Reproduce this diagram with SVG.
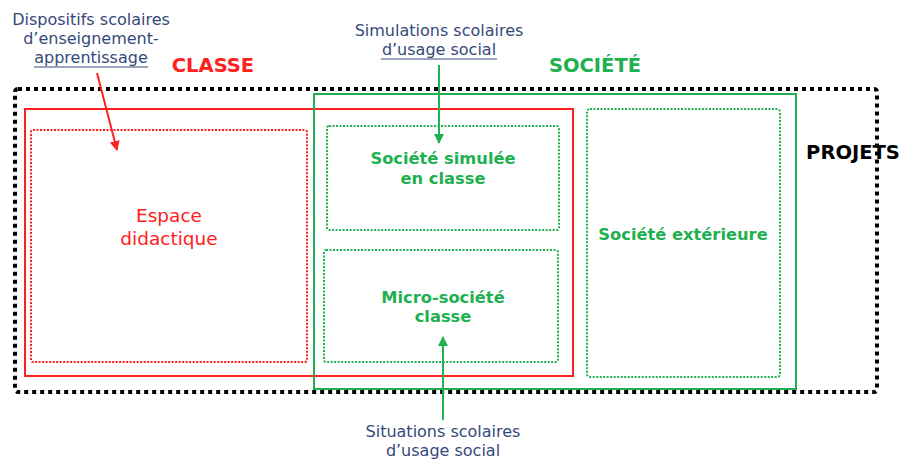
<svg xmlns="http://www.w3.org/2000/svg" width="902" height="459" viewBox="0 0 902 459">
<defs>
<style>
.lbl{font-family:"DejaVu Sans",Verdana,sans-serif;font-size:16px;fill:#35497a;text-anchor:middle}
.grn{font-family:"DejaVu Sans",Verdana,sans-serif;font-size:16.3px;font-weight:bold;fill:#21b04f;text-anchor:middle}
.ttl{font-family:"DejaVu Sans",Verdana,sans-serif;font-size:19.5px;font-weight:bold;text-anchor:middle}
.red{font-family:"DejaVu Sans",Verdana,sans-serif;font-size:18.5px;fill:#ff2020;text-anchor:middle}
.gdot{fill:none;stroke:#21b04f;stroke-width:2;stroke-dasharray:2 1.5}
.rdot{fill:none;stroke:#ff2020;stroke-width:2;stroke-dasharray:2 1.5}
</style>
<marker id="ahR" viewBox="0 0 10 10" refX="9" refY="5" markerWidth="5" markerHeight="5" orient="auto"><path d="M0,0 L10,5 L0,10 z" fill="#ff2020"/></marker>
<marker id="ahG" viewBox="0 0 10 10" refX="9" refY="5" markerWidth="5" markerHeight="5" orient="auto"><path d="M0,0 L10,5 L0,10 z" fill="#21b04f"/></marker>
</defs>
<rect width="902" height="459" fill="#ffffff"/>

<g id="projets">
<rect x="15" y="89" width="862" height="303" rx="3" fill="none" stroke="#000" stroke-width="4" stroke-dasharray="4 4"/>
<text class="ttl" x="853" y="159" fill="#000">PROJETS</text>
</g>

<g id="classe">
<rect x="25" y="109" width="548" height="267" fill="none" stroke="#ff2020" stroke-width="2"/>
<text class="ttl" x="213" y="72" fill="#ff2020">CLASSE</text>
</g>

<g id="societe">
<rect x="314" y="94" width="482" height="295" fill="none" stroke="#21b04f" stroke-width="2"/>
<text class="ttl" x="595" y="72" fill="#21b04f">SOCIÉTÉ</text>
</g>

<g id="espace">
<rect class="rdot" x="31" y="130" width="276" height="232" rx="2"/>
<text class="red" x="169" y="222">Espace</text>
<text class="red" x="169" y="245">didactique</text>
</g>

<g id="simulee">
<rect class="gdot" x="327" y="126" width="232" height="104" rx="2"/>
<text class="grn" x="443" y="164">Société simulée</text>
<text class="grn" x="443" y="184">en classe</text>
</g>

<g id="micro">
<rect class="gdot" x="324" y="250" width="234" height="112" rx="2"/>
<text class="grn" x="443" y="303">Micro-société</text>
<text class="grn" x="443" y="322">classe</text>
</g>

<g id="exterieure">
<rect class="gdot" x="587" y="109" width="193" height="268" rx="3"/>
<text class="grn" x="683" y="240">Société extérieure</text>
</g>

<g id="dispositifs">
<text class="lbl" x="91" y="25">Dispositifs scolaires</text>
<text class="lbl" x="91" y="44">d’enseignement-</text>
<text class="lbl" x="91" y="63">apprentissage</text>
<line x1="34" y1="67" x2="148" y2="67" stroke="#35497a" stroke-width="1"/>
</g>

<g id="simulations">
<text class="lbl" x="439" y="36">Simulations scolaires</text>
<text class="lbl" x="439" y="55">d’usage social</text>
<line x1="381" y1="59" x2="497" y2="59" stroke="#35497a" stroke-width="1"/>
</g>

<g id="situations">
<text class="lbl" x="443" y="437">Situations scolaires</text>
<text class="lbl" x="443" y="456">d’usage social</text>
</g>

<g id="connectors">
<line x1="97" y1="73" x2="117" y2="150" stroke="#ff2020" stroke-width="2" marker-end="url(#ahR)"/>
<line x1="439" y1="65" x2="439" y2="143" stroke="#21b04f" stroke-width="2" marker-end="url(#ahG)"/>
<line x1="443" y1="420" x2="443" y2="337" stroke="#21b04f" stroke-width="2" marker-end="url(#ahG)"/>
</g>
</svg>
